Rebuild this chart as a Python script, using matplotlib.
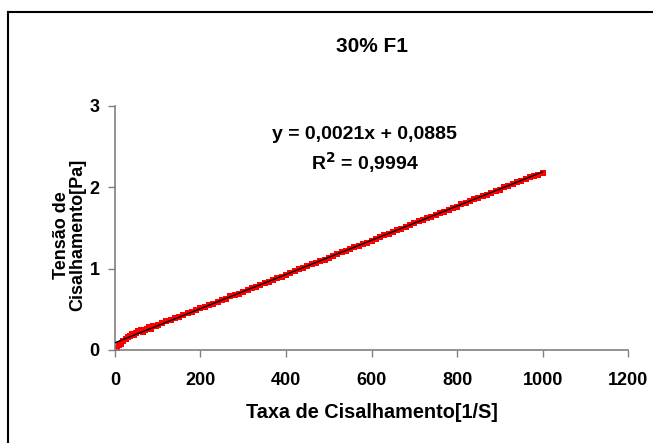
"""Flow curve for the 30% F1 sample: shear stress vs shear rate with linear fit."""

import matplotlib

matplotlib.use("Agg")

import matplotlib.pyplot as plt
import numpy as np
from matplotlib.lines import Line2D

plt.rcParams["font.family"] = ["Liberation Sans", "DejaVu Sans"]
plt.rcParams["font.weight"] = "bold"

# measured shear rate [1/s] and shear stress [Pa]
shear_rate = [
    0, 5, 10, 15, 20, 25, 30, 35, 40, 45, 50, 55, 60, 65, 70, 75, 80, 85, 90,
    95, 100, 110, 120, 130, 140, 150,
    160, 170, 180, 190, 200, 210, 220, 230, 240, 250, 260, 270, 280, 290, 300,
    310, 320, 330, 340, 350, 360, 370, 380, 390, 400, 410, 420, 430, 440, 450,
    460, 470, 480, 490, 500, 510, 520, 530, 540, 550, 560, 570, 580, 590, 600,
    610, 620, 630, 640, 650, 660, 670, 680, 690, 700, 710, 720, 730, 740, 750,
    760, 770, 780, 790, 800, 810, 820, 830, 840, 850, 860, 870, 880, 890, 900,
    910, 920, 930, 940, 950, 960, 970, 980, 990, 1000,
]
shear_stress = [
    0.00, 0.03, 0.06, 0.07, 0.11, 0.13, 0.16, 0.17, 0.20, 0.18, 0.21, 0.23,
    0.25, 0.22, 0.24, 0.26, 0.28, 0.26, 0.29, 0.30, 0.31, 0.33, 0.35, 0.37,
    0.39, 0.41, 0.43, 0.45, 0.47, 0.49, 0.51, 0.53,
    0.55, 0.57, 0.59, 0.61, 0.63, 0.66, 0.67, 0.69, 0.71, 0.74, 0.76, 0.78,
    0.80, 0.82, 0.84, 0.86, 0.88, 0.90, 0.92, 0.95, 0.97, 0.99, 1.01, 1.03,
    1.06, 1.07, 1.09, 1.11, 1.13, 1.16, 1.18, 1.20, 1.22, 1.24, 1.26, 1.28,
    1.30, 1.32, 1.34, 1.37, 1.39, 1.41, 1.43, 1.45, 1.47, 1.49, 1.51, 1.53,
    1.56, 1.58, 1.60, 1.62, 1.64, 1.66, 1.68, 1.70, 1.72, 1.74, 1.76, 1.79,
    1.81, 1.83, 1.85, 1.87, 1.89, 1.91, 1.93, 1.95, 1.97, 2.00, 2.02, 2.04,
    2.06, 2.08, 2.10, 2.12, 2.14, 2.15, 2.17,
]

# linear trendline coefficients and fit quality
slope = 0.0021
intercept = 0.0885
r_squared = 0.9994

x_ticks = [0, 200, 400, 600, 800, 1000, 1200]
y_ticks = [0, 1, 2, 3]

fig = plt.figure(figsize=(6.53, 4.43), dpi=100)
ax = fig.add_axes([0.176, 0.210, 0.786, 0.551])

ax.plot(shear_rate, shear_stress, linestyle="none", marker="s", markersize=3.8,
        color="#ff0000", markeredgewidth=0, zorder=2)
fit_x = np.array([0, 1000])
ax.plot(fit_x, np.polyval([slope, intercept], fit_x), color="black", linewidth=1.0, zorder=3)

ax.set_xlim(0, 1200)
ax.set_ylim(0, 3)
ax.set_xticks(x_ticks)
ax.set_yticks(y_ticks)
ax.tick_params(direction="out", length=5, width=1, color="#808080",
               labelsize=13, pad=6)
ax.tick_params(axis="x", pad=11)
for label in ax.get_xticklabels() + ax.get_yticklabels():
    label.set_fontweight("bold")
for side in ("top", "right"):
    ax.spines[side].set_visible(False)
for side in ("left", "bottom"):
    ax.spines[side].set_color("#808080")
    ax.spines[side].set_linewidth(1.2)

ax.set_xlabel("Taxa de Cisalhamento[1/S]", fontsize=14.3, fontweight="bold", labelpad=10)
ax.set_ylabel("Tensão de\nCisalhamento[Pa]", fontsize=13, fontweight="bold",
              linespacing=1.0)
ax.yaxis.set_label_coords(-0.055, 0.47)

fig.text(0.570, 0.896, "30% F1", ha="center", va="center", fontsize=15, fontweight="bold")
eq = f"y = {slope:.4f}x + {intercept:.4f}".replace(".", ",")
ax.text(0.487, 0.882, eq, transform=ax.transAxes, ha="center", va="center",
        fontsize=14, fontweight="bold")
r2 = f"R$^{{2}}$ = {r_squared:.4f}".replace(".", ",")
ax.text(0.487, 0.767, r2, transform=ax.transAxes, ha="center", va="center",
        fontsize=14, fontweight="bold")

# chart-area border (left and top edges fall inside the canvas)
border_left = 0.012
border_top = 0.973
fig.add_artist(Line2D([border_left, border_left], [0, border_top], transform=fig.transFigure,
                      color="black", linewidth=1.5))
fig.add_artist(Line2D([border_left, 1], [border_top, border_top], transform=fig.transFigure,
                      color="black", linewidth=1.5))

fig.savefig("out.png", dpi=100)
